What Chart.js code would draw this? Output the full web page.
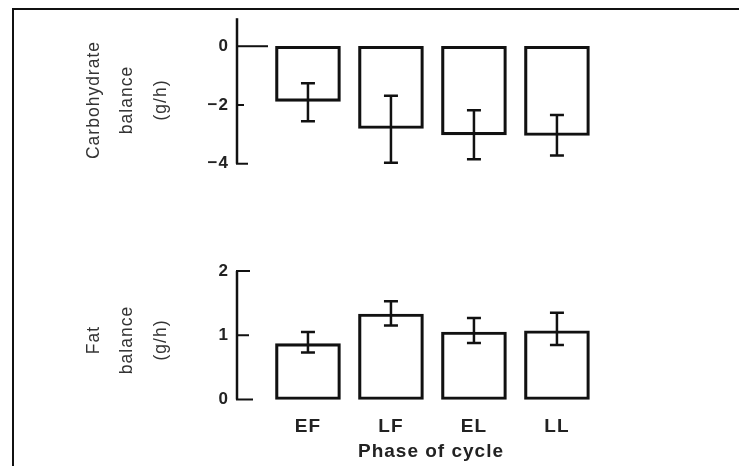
<!DOCTYPE html>
<html>
<head>
<meta charset="utf-8">
<script src="https://cdn.jsdelivr.net/npm/chart.js@4/dist/chart.umd.min.js"></script>
<style>
html,body{margin:0;padding:0;background:#fff;}
#wrap{position:relative;width:739px;height:466px;overflow:hidden;background:#fff;}
#frame{position:absolute;left:12px;top:8px;width:800px;height:600px;border-left:2.5px solid #111;border-top:2.5px solid #111;}
#c1{position:absolute;left:0;top:0;}
#c2{position:absolute;left:0;top:240px;}
</style>
</head>
<body>
<div id="wrap">
  <div id="frame"></div>
  <canvas id="c1" width="739" height="200"></canvas>
  <canvas id="c2" width="739" height="226"></canvas>
</div>
<script>
// ---- data ----
const phases = ['EF', 'LF', 'EL', 'LL'];

const carbMean    = [-1.88, -2.80, -3.02, -3.04];
const carbErrHigh = [-1.26, -1.69, -2.18, -2.34];
const carbErrLow  = [-2.55, -3.97, -3.85, -3.72];
const carbTicks   = [0, -2, -4];

const fatMean     = [0.87, 1.33, 1.05, 1.07];
const fatErrHigh  = [1.05, 1.53, 1.27, 1.35];
const fatErrLow   = [0.73, 1.15, 0.88, 0.85];
const fatTicks    = [2, 1, 0];

const INK = '#111';
const FONT = "'Liberation Sans', Arial, sans-serif";

// slightly wider letter spacing like the scanned typeface
const spacing = {
  id: 'spacing',
  beforeDraw(chart) { chart.ctx.letterSpacing = '1px'; }
};

// draws the hand-style axis line, inward ticks and error bars through the chart's scales
const handAxis = {
  id: 'handAxis',
  afterDatasetsDraw(chart, args, opts) {
    const ctx = chart.ctx, xs = chart.scales.x, ys = chart.scales.y;
    const ax = chart.chartArea.left;
    ctx.save();
    ctx.strokeStyle = INK;
    ctx.lineCap = 'butt';
    ctx.lineWidth = 2.5;
    ctx.beginPath();
    ctx.moveTo(ax, ys.getPixelForValue(opts.axisFrom));
    ctx.lineTo(ax, ys.getPixelForValue(opts.axisTo));
    ctx.stroke();
    ctx.lineWidth = 2;
    opts.ticks.forEach((v, i) => {
      const py = ys.getPixelForValue(v);
      ctx.beginPath();
      ctx.moveTo(ax - 1, py);
      ctx.lineTo(ax + opts.tickLens[i], py);
      ctx.stroke();
    });
    ctx.lineWidth = 2.5;
    opts.hi.forEach((h, i) => {
      const px = xs.getPixelForValue(i);
      const y1 = ys.getPixelForValue(h), y2 = ys.getPixelForValue(opts.lo[i]);
      ctx.beginPath();
      ctx.moveTo(px, y1); ctx.lineTo(px, y2);
      ctx.moveTo(px - 7, y1); ctx.lineTo(px + 7, y1);
      ctx.moveTo(px - 7, y2); ctx.lineTo(px + 7, y2);
      ctx.stroke();
    });
    ctx.restore();
  }
};

const fmt = v => (v < 0 ? '\u2212' + Math.abs(v) : String(v));

function barDataset(values) {
  return {
    type: 'bar',
    data: values.map((v, i) => ({ x: i, y: v })),
    backgroundColor: 'rgba(255,255,255,0)',
    borderColor: INK,
    borderWidth: 2.5,
    borderSkipped: false,
    barThickness: 65
  };
}

function yScale(min, max, tickVals, titleLines) {
  return {
    min: min, max: max,
    afterBuildTicks: s => { s.ticks = tickVals.map(v => ({ value: v })); },
    afterFit: s => { s.width = 237; },
    grid: { display: false, drawTicks: false },
    border: { display: false },
    ticks: {
      callback: v => fmt(v),
      font: { family: FONT, size: 17, weight: 'bold' },
      color: '#222',
      padding: 8
    },
    title: {
      display: true,
      text: titleLines,
      color: '#333',
      font: { family: FONT, size: 17.5, weight: 'normal', lineHeight: 1.89 },
      padding: { top: 78, bottom: 0 }
    }
  };
}

// ---- top panel: carbohydrate balance ----
new Chart(document.getElementById('c1'), {
  type: 'bar',
  data: { datasets: [barDataset(carbMean)] },
  options: {
    responsive: false,
    animation: false,
    layout: { padding: { top: 12, bottom: 7, left: 0, right: 114 } },
    plugins: {
      legend: { display: false },
      tooltip: { enabled: false },
      handAxis: { axisFrom: 0.954, axisTo: -4, ticks: carbTicks, tickLens: [31, 7, 11], hi: carbErrHigh, lo: carbErrLow }
    },
    scales: {
      x: { type: 'linear', offset: false, min: -0.855, max: 3.82, display: false },
      y: yScale(-4.615, 0.954, carbTicks, ['Carbohydrate', 'balance', '(g/h)'])
    }
  },
  plugins: [spacing, handAxis]
});

// ---- bottom panel: fat balance ----
new Chart(document.getElementById('c2'), {
  type: 'bar',
  data: { datasets: [barDataset(fatMean)] },
  options: {
    responsive: false,
    animation: false,
    layout: { padding: { top: 31, bottom: 0, left: 0, right: 114 } },
    plugins: {
      legend: { display: false },
      tooltip: { enabled: false },
      handAxis: { axisFrom: 2, axisTo: 0, ticks: fatTicks, tickLens: [13, 12, 16], hi: fatErrHigh, lo: fatErrLow }
    },
    scales: {
      x: {
        type: 'linear', offset: false, min: -0.855, max: 3.82, position: 'bottom',
        afterBuildTicks: s => { s.ticks = phases.map((_, i) => ({ value: i })); },
        afterFit: s => { s.height = 57; },
        grid: { display: false, drawTicks: false },
        border: { display: false },
        ticks: {
          callback: v => phases[v],
          autoSkip: false, maxRotation: 0,
          font: { family: FONT, size: 19, weight: 'bold' },
          color: '#222',
          padding: 6
        },
        title: {
          display: true,
          text: 'Phase of cycle',
          color: '#222',
          font: { family: FONT, size: 19, weight: 'bold' },
          padding: { top: 3, bottom: 3 }
        }
      },
      y: yScale(-0.148, 2, fatTicks, ['Fat', 'balance', '(g/h)'])
    }
  },
  plugins: [spacing, handAxis]
});
</script>
</body>
</html>
